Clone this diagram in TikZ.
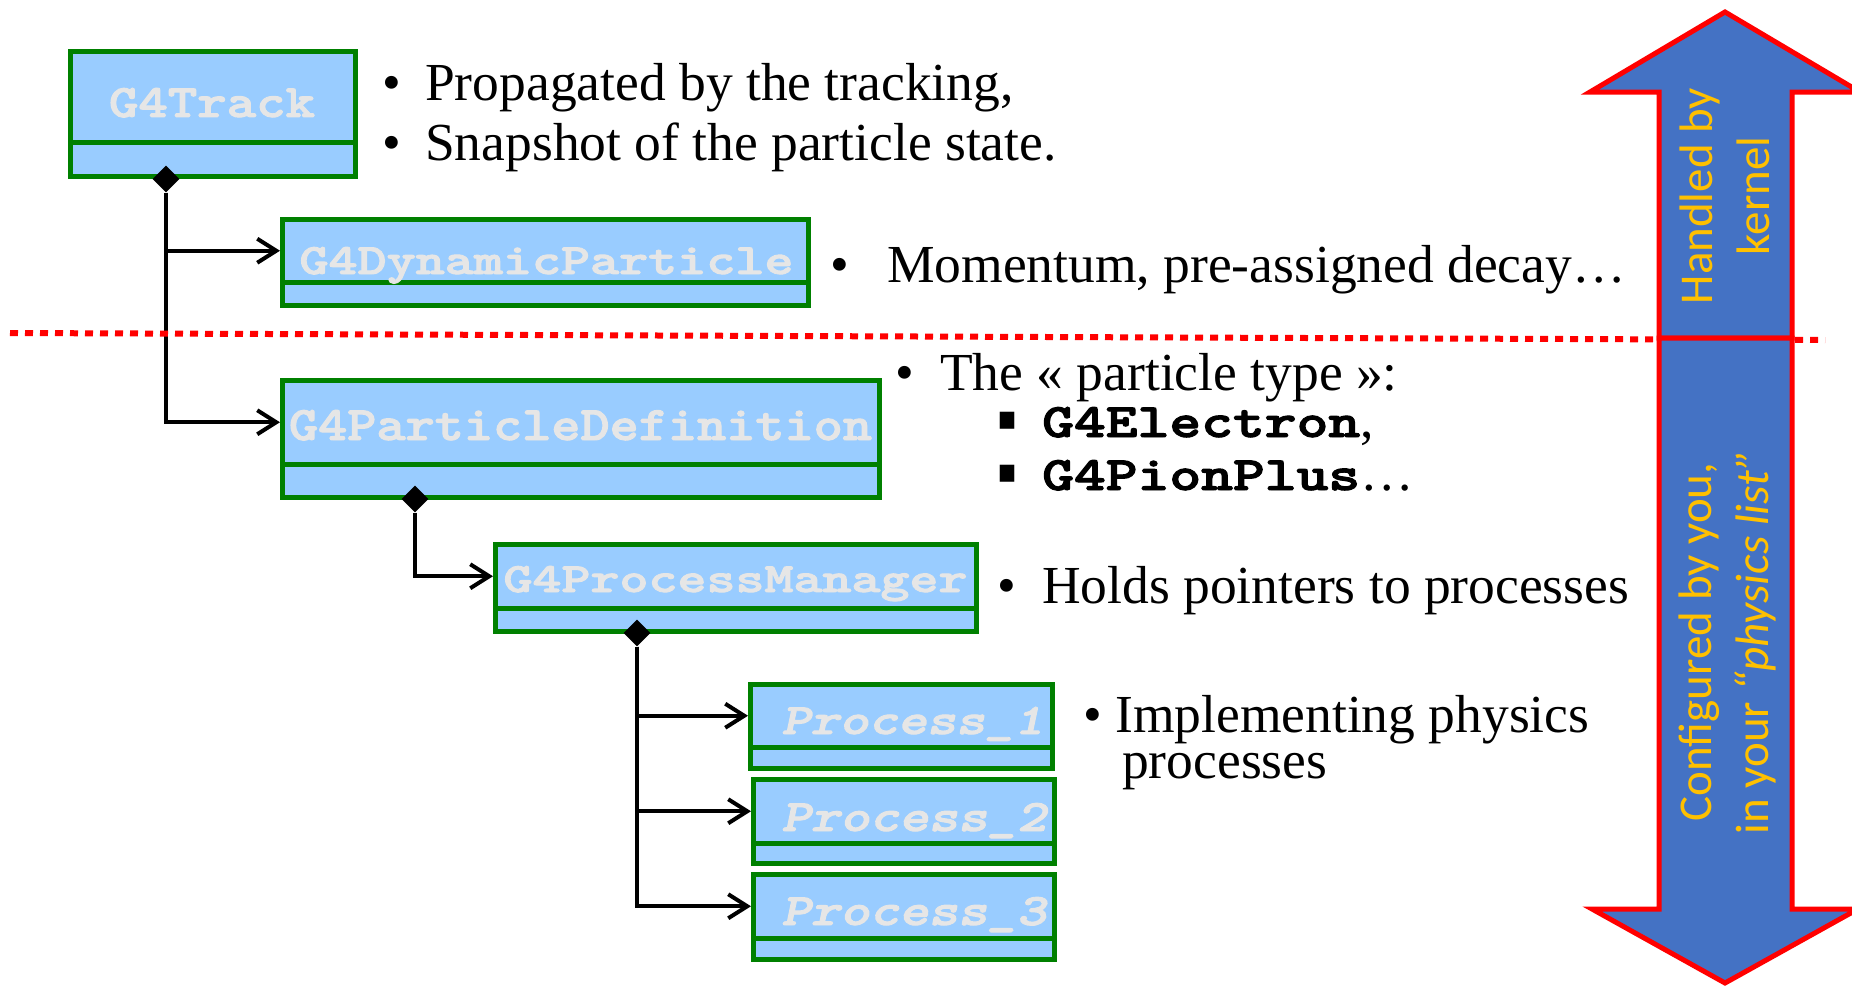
\documentclass[tikz,border=0pt]{standalone}
\usepackage{fontspec}
\setmainfont{Liberation Serif}
\newfontfamily\armfont{Carlito}
\newfontfamily\symfont{DejaVu Sans}
\newfontfamily\codefont{lmmonolt10-bold.otf}[FakeBold=2]
\newfontfamily\codeslfont{lmmonolt10-boldoblique.otf}[FakeBold=2]
\usetikzlibrary{arrows.meta,shapes.geometric}

\definecolor{boxfill}{HTML}{99CCFF}
\definecolor{boxline}{HTML}{008000}
\definecolor{labelgray}{HTML}{E6E6E6}
\definecolor{armblue}{HTML}{4472C4}
\definecolor{armtext}{HTML}{FFC000}
\definecolor{armred}{HTML}{FF0000}

% monospaced class names, fitted to a given width and cap height
\newcommand\monolabel[3]{\resizebox{#1pt}{#2pt}{\codefont #3}}
\newcommand\monoslant[3]{\resizebox{#1pt}{#2pt}{\codeslfont #3}}

% one compartment of a class box, given by its outer edges
\newcommand\compart[5]{%
  \node[compart, minimum width={#4-#2-5}, minimum height={#5-#3-5}]
    (#1) at ({(#2+#4)/2},{(#3+#5)/2}) {};}

\tikzset{
  compart/.style={rectangle, draw=boxline, fill=boxfill, line width=5pt,
    inner sep=0pt},
  classname/.style={anchor=base, inner sep=0pt, text=labelgray},
  dmd/.style={diamond, fill=black, inner sep=0pt, minimum width=27pt,
    minimum height=27pt},
  conn/.style={line width=4pt, -{Straight Barb[length=19pt,width=24pt]}},
  mtext/.style={anchor=base west, inner sep=0pt,
    font=\fontsize{53.5}{60}\selectfont},
  bul/.style={anchor=base, inner sep=0pt, font=\fontsize{53.5}{60}\selectfont},
  sqbul/.style={anchor=south west, inner sep=0pt},
  armshape/.style={fill=armblue, draw=armred, line width=5pt,
    line join=miter},
  armlabel/.style={rotate=90, align=center, inner sep=0pt, text=armtext,
    font=\armfont\fontsize{47}{57}\selectfont},
  divider/.style={draw=armred, line width=6pt, dash pattern=on 8pt off 7pt},
}

\begin{document}
\begin{tikzpicture}[x=1pt,y=-1pt]
\useasboundingbox (0,0) rectangle (1852,990);
\fill[white] (0,0) rectangle (1852,990);

% class boxes: upper compartment (name) and empty lower compartment
\compart{trk}{68}{49}{358}{144.5}
\compart{trk-b}{68}{139.5}{358}{179}
\compart{dyn}{280}{217}{811}{284.5}
\compart{dyn-b}{280}{279.5}{811}{308}
\compart{pdef}{280}{378}{882}{466.5}
\compart{pdef-b}{280}{461.5}{882}{500}
\compart{pmgr}{493}{542}{979}{610.5}
\compart{pmgr-b}{493}{605.5}{979}{634}
\compart{p1}{748}{682}{1055}{749.5}
\compart{p1-b}{748}{744.5}{1055}{771}
\compart{p2}{751}{777}{1057}{845.5}
\compart{p2-b}{751}{840.5}{1057}{866}
\compart{p3}{751}{872}{1057}{940.5}
\compart{p3-b}{751}{935.5}{1057}{962}

% class names
\node[classname] (trk-l)  at (212,117)   {\monolabel{206}{29}{G4Track}};
\node[classname] (dyn-l)  at (546.5,274) {\monolabel{494}{27}{G4DynamicParticle}};
\node[classname] (pdef-l) at (580.5,440) {\monolabel{583}{30}{G4ParticleDefinition}};
\node[classname] (pmgr-l) at (735.5,592) {\monolabel{464}{26}{G4ProcessManager}};
\node[classname] (p1-l)   at (912.5,734) {\monoslant{262}{27}{Process\_1}};
\node[classname] (p2-l)   at (914,831)   {\monoslant{265}{28}{Process\_2}};
\node[classname] (p3-l)   at (914,925)   {\monoslant{265}{28}{Process\_3}};

% composition diamonds
\node[dmd] (trkd)  at (166,179) {};
\node[dmd] (pdefd) at (415,499) {};
\node[dmd] (pmgrd) at (637,633) {};

% connectors
\draw[conn] (trkd.south)  |- (dyn.west);
\draw[conn] (trkd.south)  |- (pdef.west);
\draw[conn] (pdefd.south) |- (pmgr.west);
\draw[conn] (pmgrd.south) |- (p1.west);
\draw[conn] (pmgrd.south) |- (p2.west);
\draw[conn] (pmgrd.south) |- (p3.west);

% separation between kernel and user parts
\coordinate (sepL) at (10,333);
\coordinate (sepR) at (1825,340);
\draw[divider] (sepL) -- (sepR);

% descriptions
\node[bul]   (b1) at (392,100) {•};
\node[mtext] (t1) at (425,100) {Propagated by the tracking,};
\node[bul]   (b2) at (392,160) {•};
\node[mtext] (t2) at (425,160) {Snapshot of the particle state.};
\node[bul]   (b3) at (840,282) {•};
\node[mtext] (t3) at (887,282) {Momentum, pre-assigned decay…};
\node[bul]   (b4) at (905,390) {•};
\node[mtext] (t4) at (940,390) {The « particle type »:};
\node[sqbul] (s1) at (998,429) {\resizebox*{18pt}{17pt}{\symfont ■}};
\node[mtext] (t5) at (1042,437) {\monolabel{318}{30}{G4Electron},};
\node[sqbul] (s2) at (998,482) {\resizebox*{18pt}{17pt}{\symfont ■}};
\node[mtext] (t6) at (1042,490) {\monolabel{318}{30}{G4PionPlus}…};
\node[bul]   (b7) at (1007,603) {•};
\node[mtext] (t7) at (1042,603) {Holds pointers to processes};
\node[bul]   (b8) at (1093,732) {•};
\node[mtext] (t8) at (1115,732)
  {\vtop{\baselineskip=46pt\hbox{Implementing physics}\hbox{\hspace*{7pt}processes}}};

% side arrows
\draw[armshape] (1659,338) -- (1659,92) -- (1590,92) -- (1725,12)
  -- (1860,92) -- (1792,92) -- (1792,338) -- cycle;
\draw[armshape] (1659,338) -- (1659,909) -- (1592,909) -- (1725,983)
  -- (1858,909) -- (1792,909) -- (1792,338) -- cycle;
\node[armlabel] (up-l)   at (1725,196) {Handled by\\kernel};
\node[armlabel] (down-l) at (1727,642)
  {Configured by you,\\in your \textit{“physics list”}};
\end{tikzpicture}
\end{document}
